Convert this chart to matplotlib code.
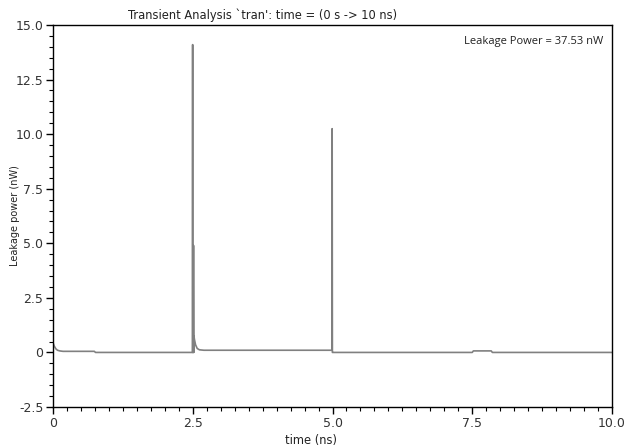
import matplotlib
matplotlib.use("Agg")
import matplotlib.pyplot as plt
from matplotlib.ticker import MultipleLocator

# Data (ns, nW)
time_ns = [0.0, 0.02, 0.05, 0.08, 0.12, 0.18, 0.74, 0.76, 2.494, 2.498, 2.501,
           2.506, 2.510, 2.514, 2.518, 2.522, 2.53, 2.55, 2.58, 2.62, 2.7,
           4.990, 4.994, 4.998, 5.003, 7.50, 7.52, 7.84, 7.86, 10.0]
power_nw = [0.45, 0.30, 0.17, 0.10, 0.07, 0.05, 0.05, 0.0, 0.0, 14.1, 0.0,
            4.9, 0.0, 4.9, 0.0, 0.75, 0.6, 0.35, 0.18, 0.12, 0.1,
            0.1, 10.25, 0.0, 0.0, 0.0, 0.07, 0.07, 0.0, 0.0]

title = "Transient Analysis `tran': time = (0 s -> 10 ns)"
annotation = "Leakage Power = 37.53 nW"
xlabel = "time (ns)"
ylabel = "Leakage power (nW)"
xticks = [0, 2.5, 5.0, 7.5, 10.0]
xticklabels = ["0", "2.5", "5.0", "7.5", "10.0"]
yticks = [-2.5, 0, 2.5, 5.0, 7.5, 10.0, 12.5, 15.0]
yticklabels = ["-2.5", "0", "2.5", "5.0", "7.5", "10.0", "12.5", "15.0"]

fig = plt.figure(figsize=(6.28, 4.46), dpi=100)
ax = fig.add_axes([53/628, 1-407/446, (612-53)/628, (407-25)/446])

ax.plot(time_ns, power_nw, color="#808080", linewidth=1.2)

ax.set_xlim(0, 10)
ax.set_ylim(-2.5, 15)
ax.set_xticks(xticks)
ax.set_xticklabels(xticklabels)
ax.set_yticks(yticks)
ax.set_yticklabels(yticklabels)
ax.xaxis.set_minor_locator(MultipleLocator(0.25))
ax.yaxis.set_minor_locator(MultipleLocator(0.5))
ax.tick_params(which="major", direction="out", length=5, width=1, labelsize=9,
               labelcolor="#333333", top=False, right=False, pad=2)
ax.tick_params(which="minor", direction="out", length=3, width=0.8,
               top=False, right=False)
for s in ax.spines.values():
    s.set_linewidth(1)
    s.set_color("black")

ax.text(0.374, 1.008, title, transform=ax.transAxes, ha="center", va="bottom",
        fontsize=8.3, color="#222222")
ax.text(0.462, -0.07, xlabel, transform=ax.transAxes, ha="center", va="top",
        fontsize=8.3, color="#222222")
ax.text(-0.068, 0.5, ylabel, transform=ax.transAxes, ha="center", va="center",
        rotation=90, fontsize=7, color="#222222")
ax.text(0.985, 0.972, annotation, transform=ax.transAxes, ha="right", va="top",
        fontsize=8, color="#222222", family="Open Sans")

fig.savefig("out.png", dpi=100)
